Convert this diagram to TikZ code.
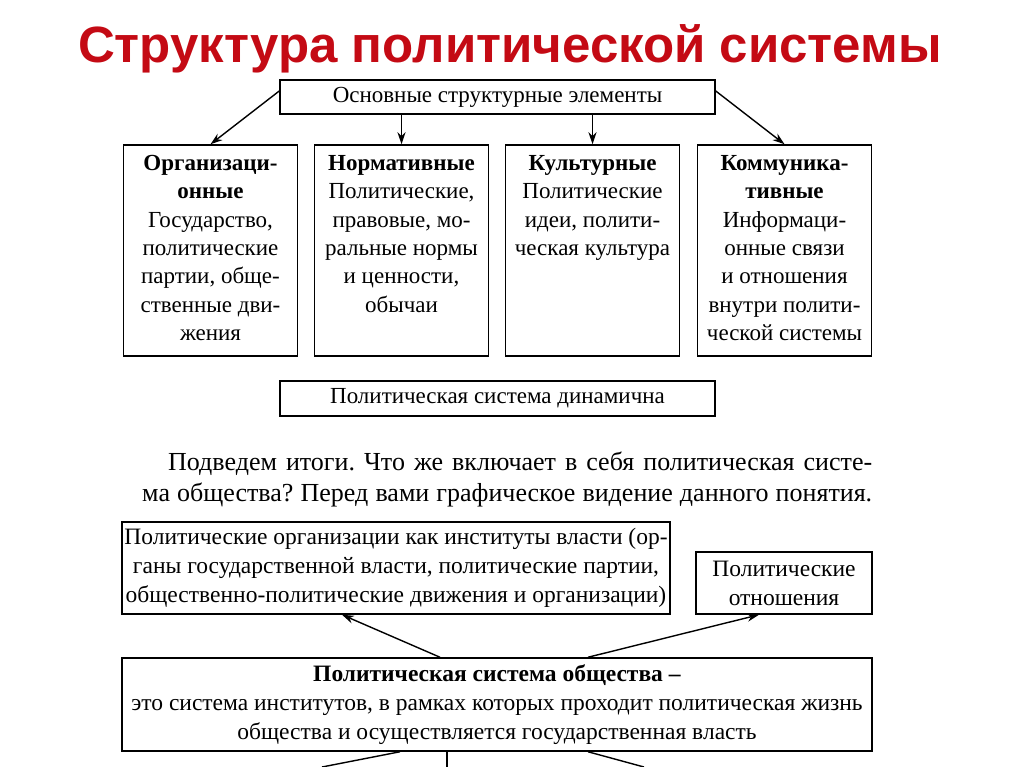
\documentclass[tikz,border=0pt]{standalone}
\usepackage{fontspec}
\setmainfont{Liberation Serif}
\newfontfamily\headfont{Liberation Sans}
\usepackage{xcolor}
\usetikzlibrary{calc,positioning,arrows.meta}
\definecolor{headred}{RGB}{196,10,20}
\frenchspacing

\begin{document}
\begin{tikzpicture}[x=1pt,y=-1pt,
   frame/.style={draw,line width=1.5pt,inner sep=0pt},
   elem/.style={frame,minimum width=174pt,minimum height=211pt},
   elemtext/.style={align=center,inner sep=0pt,font=\fontsize{23}{28.3}\selectfont},
   boxtext/.style={align=center,font=\fontsize{23.5}{29}\selectfont},
   arr/.style={line width=1.4pt,-{Stealth[length=12pt,width=8pt]}},
   cut/.style={line width=1.4pt}]
\useasboundingbox (0,0) rectangle (1024,767);
\node[font=\headfont\bfseries\fontsize{51}{51}\selectfont,text=headred,anchor=base] (title) at (510,63) {Структура политической системы};
\node[frame,minimum width=435pt,minimum height=34pt,font=\fontsize{23}{26}\selectfont] (osn) at (497.5,97) {Основные структурные элементы};
% four groups of elements
\node[elem] (org) at (210.5,250.5) {};
\node[elem] (norm) at (401.5,250.5) {};
\node[elem] (cult) at (592.5,250.5) {};
\node[elem] (comm) at (784.5,250.5) {};
\node[elemtext,below=11pt of org.north] (orgtxt) {\textbf{Организаци-}\\\textbf{онные}\\Государство,\\политические\\партии, обще-\\ственные дви-\\жения};
\node[elemtext,below=11pt of norm.north] (normtxt) {\textbf{Нормативные}\\Политические,\\правовые, мо-\\ральные нормы\\и ценности,\\обычаи};
\node[elemtext,below=11pt of cult.north] (culttxt) {\textbf{Культурные}\\Политические\\идеи, полити-\\ческая культура};
\node[elemtext,below=11pt of comm.north] (commtxt) {\textbf{Коммуника-}\\\textbf{тивные}\\Информаци-\\онные связи\\и отношения\\внутри полити-\\ческой системы};
\draw[arr] ([yshift=6pt]osn.west) -- (org.north);
\draw[arr] (osn.south -| norm.north) -- (norm.north);
\draw[arr] (osn.south -| cult.north) -- (cult.north);
\draw[arr] ([yshift=6pt]osn.east) -- (comm.north);
\node[frame,minimum width=435pt,minimum height=35pt,font=\fontsize{23}{26}\selectfont] (dyn) at (497.5,398.5) {Политическая система динамична};
% summary text
\node[anchor=north west,inner sep=0pt,text width=730pt,align=justify,font=\fontsize{26}{31}\selectfont] (sum) at (142,452)
  {{\parfillskip=0pt \hspace*{26pt}Подведем итоги. Что же включает в себя политическая систе-\linebreak ма общества? Перед вами графическое видение данного понятия.\par}};
% lower scheme
\node[frame,boxtext,minimum width=548pt,minimum height=92pt] (orgs) at (396,568) {Политические организации как институты власти (ор-\\ганы государственной власти, политические партии,\\общественно-политические движения и организации)};
\node[frame,boxtext,minimum width=176pt,minimum height=62pt] (rel) at (784,583) {Политические\\отношения};
\node[frame,boxtext,minimum width=750pt,minimum height=93pt] (soc) at (497,704.5) {\textbf{Политическая система общества –}\\это система институтов, в рамках которых проходит политическая жизнь\\общества и осуществляется государственная власть};
\draw[arr] ([xshift=-57pt]soc.north) -- ([xshift=-54pt]orgs.south);
\draw[arr] ([xshift=91pt]soc.north) -- ([xshift=-25pt]rel.south);
\coordinate (cutl) at (322,767);
\coordinate (cutm) at (447,767);
\coordinate (cutr) at (644,767);
\draw[cut] ([xshift=-97pt]soc.south) -- (cutl);
\draw[cut] (soc.south -| cutm) -- (cutm);
\draw[cut] ([xshift=91pt]soc.south) -- (cutr);
\end{tikzpicture}
\end{document}
